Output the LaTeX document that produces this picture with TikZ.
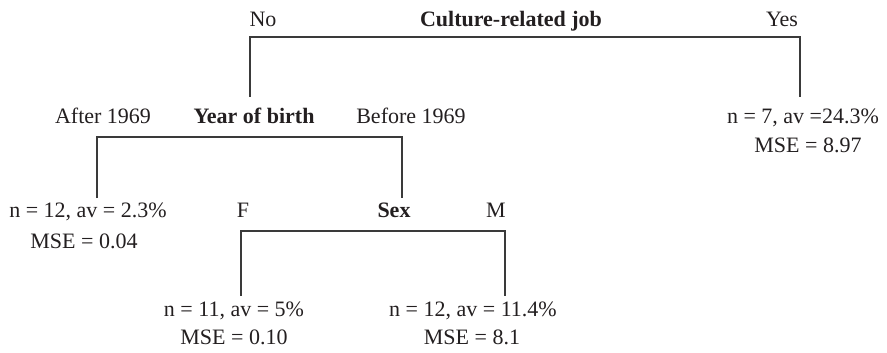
\documentclass[tikz,border=0pt]{standalone}
\usepackage{fontspec}
\setmainfont{Liberation Serif}
\definecolor{ink}{HTML}{231F20}
\definecolor{wire}{HTML}{3A3A3A}
\tikzset{
  lbl/.style={anchor=base, inner sep=0pt, outer sep=0pt, text=ink, font=\fontsize{22}{26}\selectfont},
  blbl/.style={lbl, font=\fontsize{22}{26}\selectfont\bfseries},
  wirest/.style={draw=wire, line width=1.4pt, line join=miter}
}
\begin{document}
\begin{tikzpicture}[x=1pt,y=-1pt]
\useasboundingbox (0,0) rectangle (887,353);
% root
\node[lbl]  (no)   at (263,27) {No};
\node[blbl] (cult) at (511,27) {Culture-related job};
\node[lbl]  (yes)  at (782,27) {Yes};
% level 1
\node[lbl]  (after)  at (103,124) {After 1969};
\node[blbl] (yob)    at (254,124) {Year of birth};
\node[lbl]  (before) at (411,124) {Before 1969};
\node[lbl]  (r1) at (803,124) {n = 7, av =24.3\%};
\node[lbl]  (r2) at (808,152) {MSE = 8.97};
% level 2
\node[lbl]  (l1) at (88,217) {n = 12, av = 2.3\%};
\node[lbl]  (l2) at (84,248) {MSE = 0.04};
\node[lbl]  (f)   at (243,217) {F};
\node[blbl] (sex) at (394,217) {Sex};
\node[lbl]  (m)   at (496,217) {M};
% level 3
\node[lbl]  (fl1) at (234,316) {n = 11, av = 5\%};
\node[lbl]  (fl2) at (234,344) {MSE = 0.10};
\node[lbl]  (ml1) at (473,316) {n = 12, av = 11.4\%};
\node[lbl]  (ml2) at (472,344) {MSE = 8.1};
% connector ends
\coordinate (a1) at (250,97);
\coordinate (a2) at (800,97);
\coordinate (b1) at (97,198);
\coordinate (b2) at (402,198);
\coordinate (c1) at (241,296);
\coordinate (c2) at (505,296);
\draw[wirest] (a1) -- ++(0,-60) -| (a2);
\draw[wirest] (b1) -- ++(0,-61) -| (b2);
\draw[wirest] (c1) -- ++(0,-65) -| (c2);
\end{tikzpicture}
\end{document}
